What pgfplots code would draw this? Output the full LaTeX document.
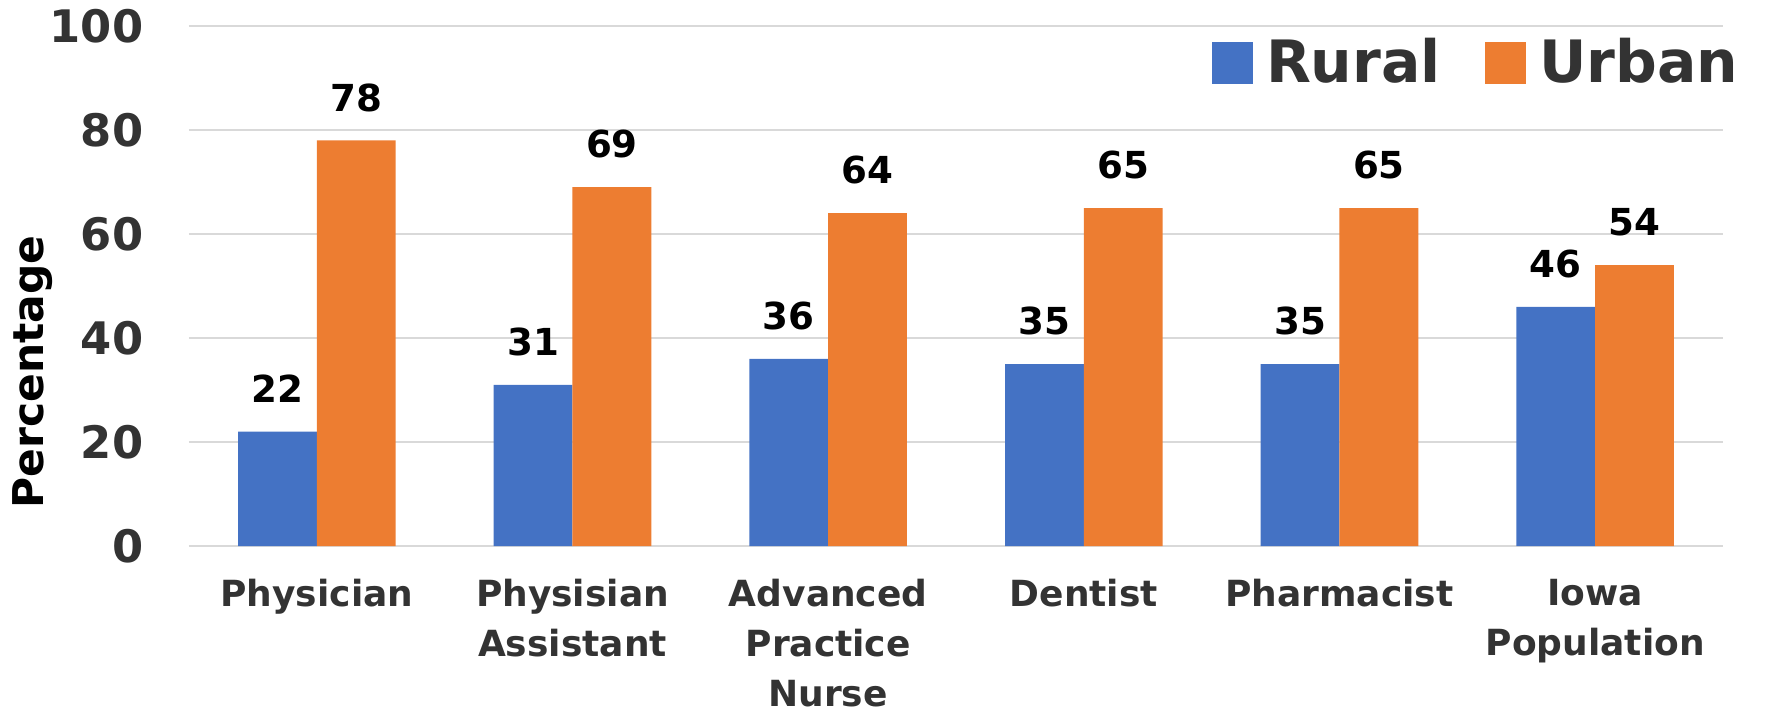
\documentclass[border=0pt]{standalone}
\usepackage{pgfplots}
\pgfplotsset{compat=1.18}
\usepackage{fontspec}
\setmainfont{DejaVu Sans}
\definecolor{rural}{HTML}{4472C4}
\definecolor{urban}{HTML}{ED7D31}
\definecolor{gridc}{HTML}{D9D9D9}
\definecolor{txt}{HTML}{333333}
\begin{document}
\begin{tikzpicture}
\begin{axis}[
 scale only axis, width=383.5pt, height=130pt,
 at={(0,0)}, anchor=south west,
 xmin=-0.5, xmax=5.5, ymin=0, ymax=100,
 ybar=0pt, bar width=19.7pt,
 xtick={0,...,5},
 xticklabels={Physician, Physisian\\Assistant, Advanced\\Practice\\Nurse, Dentist, Pharmacist, Iowa\\Population},
 xticklabel style={font=\fontsize{9}{12.5}\selectfont\bfseries, text=txt, align=center, anchor=north, inner sep=0pt, yshift=-8pt},
 ytick={0,20,...,100},
 yticklabel style={font=\fontsize{11.2}{13}\selectfont\bfseries, text=txt, anchor=east, inner sep=0pt, xshift=-11.25pt},
 /pgf/number format/assume math mode=true,
 major tick length=0pt,
 ymajorgrids, grid style={gridc, line width=0.5pt},
 axis line style={draw=none},
 every axis y label/.style={at={(rel axis cs:0,0.335)}, xshift=-39pt, rotate=90, anchor=center, font=\fontsize{10.6}{12}\selectfont\bfseries, text=black},
 ylabel={Percentage},
 nodes near coords,
 nodes near coords style={font=\fontsize{9.3}{11}\selectfont\bfseries, text=black, anchor=south, inner sep=0pt, yshift=7pt},
 legend columns=2,
 legend style={at={(rel axis cs:1,1)}, anchor=east, xshift=4pt, yshift=-9.25pt, draw=none, fill=none, inner sep=0pt, font=\fontsize{14.6}{17}\selectfont\bfseries, text=txt, nodes={inner sep=0pt}, /tikz/every odd column/.append style={column sep=3.2pt}, /tikz/every even column/.append style={column sep=11pt}},
 legend image code/.code={\fill[#1] (0pt,-5.2pt) rectangle (10.4pt,5.2pt);},
]
\addplot[fill=rural, draw=none] coordinates {(0,22) (1,31) (2,36) (3,35) (4,35) (5,46)};
\addlegendentry{Rural}
\addplot[fill=urban, draw=none] coordinates {(0,78) (1,69) (2,64) (3,65) (4,65) (5,54)};
\addlegendentry{Urban}
\end{axis}
\pgfresetboundingbox
\useasboundingbox (-47.25pt,-43pt) rectangle (394.75pt,136.5pt);
\end{tikzpicture}
\end{document}
